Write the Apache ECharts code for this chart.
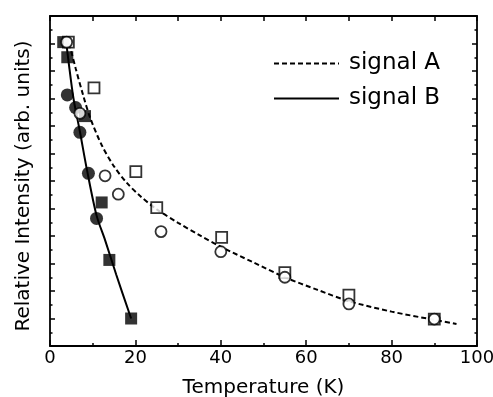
<!DOCTYPE html>
<html>
<head>
<meta charset="utf-8">
<script src="https://cdn.jsdelivr.net/npm/echarts@6/dist/echarts.min.js"></script>
<style>
  html, body { margin: 0; padding: 0; background: #fff; }
  #main { width: 493px; height: 397px; }
</style>
</head>
<body>
<div id="main"></div>
<script>
// [temperature (K), relative intensity]
const lineA = [[4.5, 11.0], [6.0, 10.1], [7.8, 9.1], [9.4, 8.3], [12.1, 7.31], [15.0, 6.53], [18.0, 5.93], [21.0, 5.47],
  [25.0, 4.97], [30.0, 4.48], [35.0, 4.03], [40.0, 3.61], [47.5, 3.05], [55.0, 2.5], [62.5, 2.05], [70.0, 1.63],
  [80.0, 1.25], [90.0, 0.95], [95.2, 0.8]];
const lineB = [[3.8, 11.05], [4.3, 10.4], [5.5, 9.0], [7.0, 7.8], [8.6, 6.45], [10.9, 4.75], [12.9, 3.85], [15.5, 2.6], [19.0, 1.0]];
const filledSquares = [[3.1, 11.05], [4.05, 10.5], [8.2, 8.36], [12.1, 5.22], [13.9, 3.13], [19.0, 1.0]];
const filledCircles = [[4.05, 9.13], [6.0, 8.67], [7.0, 7.77], [9.0, 6.28], [10.9, 4.64]];
const openSquares = [[4.3, 11.05], [10.3, 9.39], [20.1, 6.34], [25.0, 5.03], [40.2, 3.95], [55.0, 2.67], [70.0, 1.85], [90.0, 0.98]];
const openCircles = [[3.9, 11.05], [7.0, 8.46], [12.9, 6.19], [16.0, 5.52], [26.0, 4.16], [40.0, 3.43], [55.0, 2.5], [70.0, 1.53], [90.0, 0.98]];

const font = 'DejaVu Sans';
const axisLine = { show: true, onZero: false, lineStyle: { color: '#000', width: 1.8 } };

const chart = echarts.init(document.getElementById('main'));
chart.setOption({
  animation: false,
  textStyle: { fontFamily: font, color: '#000' },
  grid: { left: 50, right: 16, top: 16, bottom: 51, containLabel: false, outerBoundsMode: 'none' },
  legend: {
    data: ['signal A', 'signal B'],
    orient: 'vertical',
    left: 273, top: 52,
    itemWidth: 65, itemHeight: 12, itemGap: 12,
    padding: 0,
    itemStyle: { opacity: 0 },
    textStyle: { fontFamily: font, fontSize: 23, color: '#000', padding: [0, 0, 0, 5] }
  },
  xAxis: [
    {
      type: 'value', min: 0, max: 100, interval: 20, position: 'bottom',
      name: 'Temperature (K)', nameLocation: 'middle', nameGap: 32,
      nameTextStyle: { fontFamily: font, fontSize: 20, color: '#000' },
      axisLine: axisLine,
      axisTick: { inside: true, length: 6, lineStyle: { color: '#000', width: 1.5 } },
      minorTick: { show: true, splitNumber: 2, length: 3, lineStyle: { color: '#000', width: 1.5 } },
      axisLabel: { fontFamily: font, fontSize: 18, color: '#000', margin: 3 },
      splitLine: { show: false }
    },
    {
      type: 'value', min: 0, max: 100, interval: 10, position: 'top',
      axisLine: axisLine,
      axisTick: { inside: true, length: 5, lineStyle: { color: '#000', width: 1.5 } },
      axisLabel: { show: false },
      splitLine: { show: false }
    }
  ],
  yAxis: [
    {
      type: 'value', min: 0, max: 12, interval: 1, position: 'left',
      name: 'Relative Intensity (arb. units)', nameLocation: 'middle', nameGap: 16,
      nameTextStyle: { fontFamily: font, fontSize: 20, color: '#000', padding: [0, 10, 0, 0] },
      axisLine: axisLine,
      axisTick: { inside: true, length: 5, lineStyle: { color: '#000', width: 1.5 } },
      minorTick: { show: true, splitNumber: 2, length: 2.5, lineStyle: { color: '#000', width: 1.5 } },
      axisLabel: { show: false },
      splitLine: { show: false }
    },
    {
      type: 'value', min: 0, max: 12, interval: 1, position: 'right',
      axisLine: axisLine,
      axisTick: { inside: true, length: 5, lineStyle: { color: '#000', width: 1.5 } },
      minorTick: { show: true, splitNumber: 2, length: 2.5, lineStyle: { color: '#000', width: 1.5 } },
      axisLabel: { show: false },
      splitLine: { show: false }
    }
  ],
  series: [
    {
      name: 'signal A', type: 'line', data: lineA, symbol: 'none', smooth: 0.3,
      lineStyle: { color: '#000', width: 2, type: [5, 3] }, itemStyle: { color: '#000' }, z: 2
    },
    {
      name: 'signal B', type: 'line', data: lineB, symbol: 'none', smooth: 0.3,
      lineStyle: { color: '#000', width: 2, type: 'solid' }, itemStyle: { color: '#000' }, z: 2
    },
    {
      name: 'B squares', type: 'scatter', data: filledSquares, symbol: 'rect', symbolSize: 12,
      itemStyle: { color: '#000' }, z: 3
    },
    {
      name: 'B circles', type: 'scatter', data: filledCircles, symbol: 'circle', symbolSize: 13,
      itemStyle: { color: '#000' }, z: 3
    },
    {
      name: 'A squares', type: 'scatter', data: openSquares, symbol: 'rect', symbolSize: 11,
      itemStyle: { color: '#fff', borderColor: '#000', borderWidth: 1.8 }, z: 4
    },
    {
      name: 'A circles', type: 'scatter', data: openCircles, symbol: 'circle', symbolSize: 11,
      itemStyle: { color: '#fff', borderColor: '#000', borderWidth: 1.8 }, z: 5
    }
  ]
});
</script>
</body>
</html>
